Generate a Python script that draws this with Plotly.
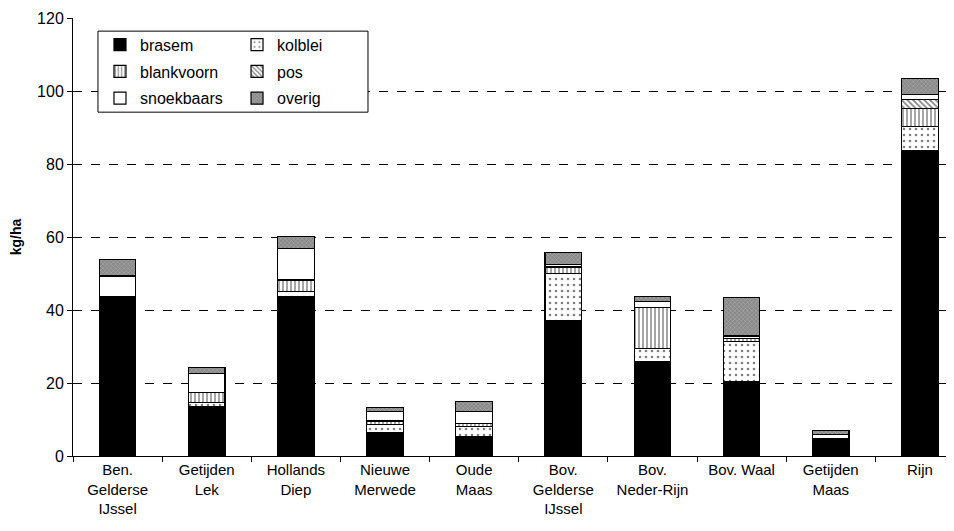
import plotly.graph_objects as go

categories = ["Ben.<br>Gelderse<br>IJssel", "Getijden<br>Lek", "Hollands<br>Diep", "Nieuwe<br>Merwede",
              "Oude<br>Maas", "Bov.<br>Gelderse<br>IJssel", "Bov.<br>Neder-Rijn", "Bov. Waal",
              "Getijden<br>Maas", "Rijn"]
brasem = [43.6, 13.5, 43.6, 6.5, 5.3, 37.0, 25.8, 20.4, 3.9, 83.8]
kolblei = [0.0, 1.1, 1.4, 2.2, 2.7, 13.0, 3.7, 10.9, 0.3, 6.4]
blankvoorn = [0.0, 2.7, 3.2, 0.9, 0.8, 1.6, 11.2, 0.8, 0.4, 5.0]
pos = [0.0, 0.0, 0.0, 0.0, 0.0, 0.4, 0.0, 0.0, 0.3, 2.5]
snoekbaars = [5.7, 5.3, 8.7, 2.7, 3.3, 0.5, 1.6, 0.8, 0.9, 1.4]
overig = [4.6, 1.6, 3.2, 0.9, 2.8, 3.3, 1.3, 10.6, 1.2, 4.4]

FONT = "Liberation Sans, Arial, sans-serif"

series = [
    ("brasem", brasem, dict(color="black"), "legend"),
    ("kolblei", kolblei, dict(color="white", pattern=dict(shape=".", fgcolor="black", bgcolor="white", size=6, solidity=0.15)), "legend2"),
    ("blankvoorn", blankvoorn, dict(color="white", pattern=dict(shape="|", fgcolor="black", bgcolor="white", size=4, solidity=0.35)), "legend"),
    ("pos", pos, dict(color="white", pattern=dict(shape="\\", fgcolor="black", bgcolor="white", size=4, solidity=0.4)), "legend2"),
    ("snoekbaars", snoekbaars, dict(color="white"), "legend"),
    ("overig", overig, dict(color="#909090", pattern=dict(shape="x", fgcolor="#e0e0e0", bgcolor="#888888", size=3, solidity=0.3)), "legend2"),
]

fig = go.Figure()
for name, vals, mk, lg in series:
    mk = dict(mk)
    mk["line"] = dict(color="black", width=1.2)
    fig.add_trace(go.Bar(x=categories, y=vals, name=name, marker=mk, width=0.41,
                         legend=lg, legendgroup=name))

fig.update_layout(
    width=946, height=523,
    margin=dict(l=65, r=2, t=10, b=75),
    paper_bgcolor="white", plot_bgcolor="white",
    barmode="stack",
    font=dict(family=FONT, size=15, color="black"),
    showlegend=True,
    legend=dict(x=0.0307, y=0.978, xanchor="left", yanchor="top", bgcolor="rgba(0,0,0,0)",
                tracegroupgap=3, font=dict(size=16), traceorder="grouped"),
    legend2=dict(x=0.1866, y=0.978, xanchor="left", yanchor="top", bgcolor="rgba(0,0,0,0)",
                 tracegroupgap=3, font=dict(size=16), traceorder="grouped"),
    xaxis=dict(type="category", range=[-0.5, 9.36], showline=True, linecolor="black", linewidth=1,
               ticks="outside", tickson="boundaries", ticklen=5, tickcolor="black",
               showgrid=False, tickfont=dict(size=15)),
    yaxis=dict(range=[0, 120], dtick=20, showline=True, linecolor="black", linewidth=1,
               ticks="outside", ticklen=5, tickcolor="black",
               showgrid=True, gridcolor="black", griddash="dash", gridwidth=1,
               zeroline=False, tickfont=dict(size=16),
               title=dict(text="<b>kg/ha</b>", font=dict(size=14), standoff=16)),
    shapes=[dict(type="rect", xref="paper", yref="paper", x0=0.0284, x1=0.3356, y0=0.785, y1=0.970,
                 line=dict(color="black", width=1), fillcolor="white", layer="above")],
)

fig.write_html("out.html")
